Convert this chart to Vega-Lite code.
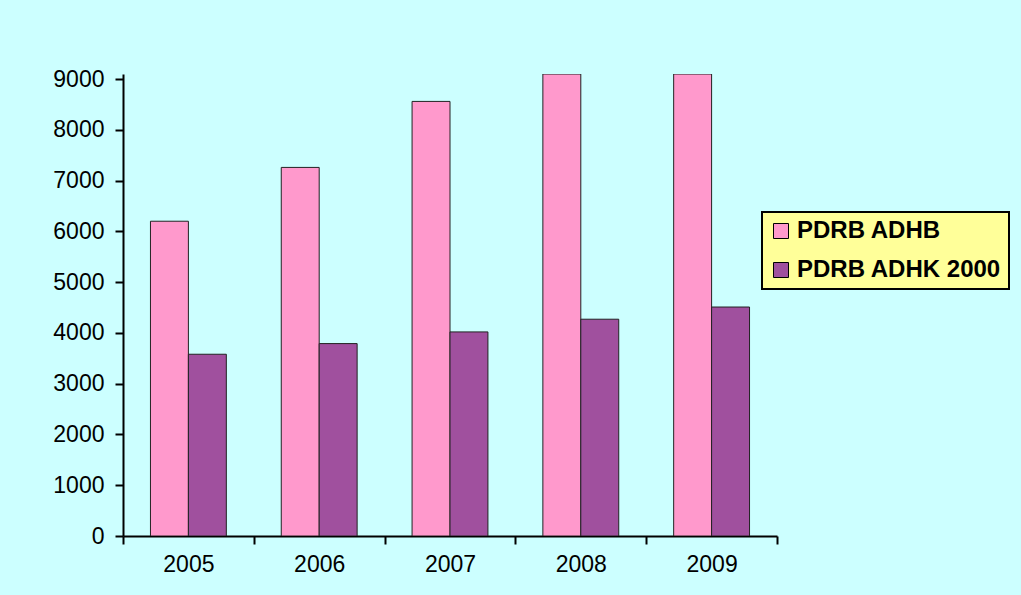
{
  "$schema": "https://vega.github.io/schema/vega-lite/v6.json",
  "width": 654,
  "height": 462,
  "autosize": {"type": "none"},
  "padding": {"left": 123, "top": 74, "right": 244, "bottom": 59},
  "background": "#CCFFFF",
  "config": {
    "view": {"stroke": null},
    "font": "Liberation Sans"
  },
  "data": {
    "values": [
      {"year": "2005", "series": "PDRB ADHB", "value": 6200},
      {"year": "2005", "series": "PDRB ADHK 2000", "value": 3580},
      {"year": "2006", "series": "PDRB ADHB", "value": 7260},
      {"year": "2006", "series": "PDRB ADHK 2000", "value": 3790},
      {"year": "2007", "series": "PDRB ADHB", "value": 8560},
      {"year": "2007", "series": "PDRB ADHK 2000", "value": 4020},
      {"year": "2008", "series": "PDRB ADHB", "value": 9100},
      {"year": "2008", "series": "PDRB ADHK 2000", "value": 4270},
      {"year": "2009", "series": "PDRB ADHB", "value": 9100},
      {"year": "2009", "series": "PDRB ADHK 2000", "value": 4510}
    ]
  },
  "mark": {"type": "bar", "stroke": "#222222", "strokeWidth": 1, "clip": true},
  "encoding": {
    "x": {
      "field": "year",
      "type": "nominal",
      "scale": {"paddingInner": 0, "paddingOuter": 0},
      "axis": {
        "title": null,
        "labelAngle": 0,
        "labelFontSize": 23,
        "labelColor": "#000000",
        "labelPadding": 9,
        "tickBand": "extent",
        "tickSize": 8,
        "tickWidth": 2,
        "tickColor": "#000000",
        "domainWidth": 2,
        "domainColor": "#000000"
      }
    },
    "xOffset": {
      "field": "series",
      "type": "nominal",
      "scale": {"paddingInner": 0, "paddingOuter": 0.724}
    },
    "y": {
      "field": "value",
      "type": "quantitative",
      "scale": {"domain": [0, 9100], "nice": false},
      "axis": {
        "title": null,
        "values": [0, 1000, 2000, 3000, 4000, 5000, 6000, 7000, 8000, 9000],
        "format": "d",
        "grid": false,
        "labelFontSize": 23,
        "labelColor": "#000000",
        "labelPadding": 11,
        "tickSize": 8,
        "tickWidth": 2,
        "tickColor": "#000000",
        "domainWidth": 2,
        "domainColor": "#000000"
      }
    },
    "color": {
      "field": "series",
      "type": "nominal",
      "scale": {"domain": ["PDRB ADHB", "PDRB ADHK 2000"], "range": ["#FF99CC", "#A0509E"]},
      "legend": {
        "title": null,
        "orient": "none",
        "legendX": 639,
        "legendY": 138,
        "fillColor": "#FFFF99",
        "strokeColor": "#000000",
        "padding": 7,
        "labelFontSize": 24,
        "labelFontWeight": "bold",
        "labelColor": "#000000",
        "labelOffset": 4,
        "symbolType": "square",
        "symbolSize": 225,
        "symbolStrokeColor": "#000000",
        "symbolStrokeWidth": 1,
        "symbolOpacity": 1,
        "rowPadding": 15,
        "labelLimit": 400,
        "encode": {"legend": {"update": {"strokeWidth": {"value": 2}}}}
      }
    }
  }
}
